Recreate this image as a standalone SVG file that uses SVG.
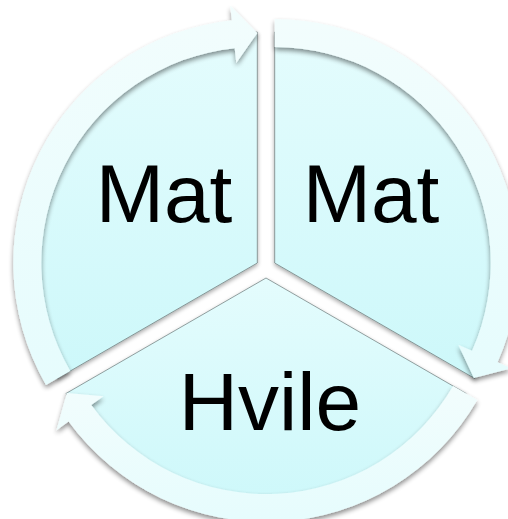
<svg xmlns="http://www.w3.org/2000/svg" width="508" height="519" viewBox="0 0 508 519">
<style>
.sector{fill:url(#secGrad);stroke:#5d6a6b;stroke-width:0.9;stroke-opacity:0.7;filter:url(#secShadow)}
.arrow{fill:url(#arrGrad);filter:url(#arrShadow)}
.label{font-family:"Liberation Sans",Arial,sans-serif;font-size:82px;fill:#000;text-anchor:middle}
</style>
<defs>
<linearGradient id="secGrad" x1="0" y1="0" x2="0" y2="1">
<stop offset="0" stop-color="#e4fcfd"/>
<stop offset="1" stop-color="#cdf8fa"/>
</linearGradient>
<linearGradient id="arrGrad" x1="0" y1="0" x2="0" y2="1">
<stop offset="0" stop-color="#f2fdfd"/>
<stop offset="1" stop-color="#e6fcfd"/>
</linearGradient>
<filter id="arrShadow" x="-20%" y="-20%" width="140%" height="140%">
<feGaussianBlur in="SourceAlpha" stdDeviation="2.5"/>
<feOffset dx="0" dy="3" result="b"/>
<feComponentTransfer><feFuncA type="linear" slope="0.45"/></feComponentTransfer>
<feMerge><feMergeNode/><feMergeNode in="SourceGraphic"/></feMerge>
</filter>
<filter id="secShadow" x="-20%" y="-20%" width="140%" height="140%">
<feGaussianBlur in="SourceAlpha" stdDeviation="2"/>
<feOffset dx="0" dy="2" result="b"/>
<feComponentTransfer><feFuncA type="linear" slope="0.35"/></feComponentTransfer>
<feMerge><feMergeNode/><feMergeNode in="SourceGraphic"/></feMerge>
</filter>
</defs>

<g id="sector-left">
<path class="sector" d="M257.3,263 L57.25,378.5 A231,231 0 0 1 257.3,32 Z"/>
</g>
<g id="sector-right">
<path class="sector" d="M274.7,263 L274.7,32 A231,231 0 0 1 474.75,378.5 Z"/>
</g>
<g id="sector-bottom">
<path class="sector" d="M266,278 L466.05,393.5 A231,231 0 0 1 65.95,393.5 Z"/>
</g>

<g id="connectors">
<path class="arrow" d="M45.99,385 A244,244 0 0 1 231.79,20.34 L230.23,5.42 L257.3,33 L236.29,63.10 L234.72,48.18 A216,216 0 0 0 70.24,371 Z"/>
<path class="arrow" d="M274.7,19 A244,244 0 0 1 497.61,362.24 L511.31,368.35 L473.89,378 L458.32,344.75 L472.03,350.86 A216,216 0 0 0 274.7,47 Z"/>
<path class="arrow" d="M477.31,400 A244,244 0 0 1 68.60,421.42 L56.46,430.24 L66.81,393 L103.39,396.15 L91.25,404.96 A216,216 0 0 0 453.06,386 Z"/>
</g>

<g id="label-left"><text class="label" x="164" y="222">Mat</text></g>
<g id="label-right"><text class="label" x="371" y="222">Mat</text></g>
<g id="label-bottom"><text class="label" x="270" y="430">Hvile</text></g>
</svg>
